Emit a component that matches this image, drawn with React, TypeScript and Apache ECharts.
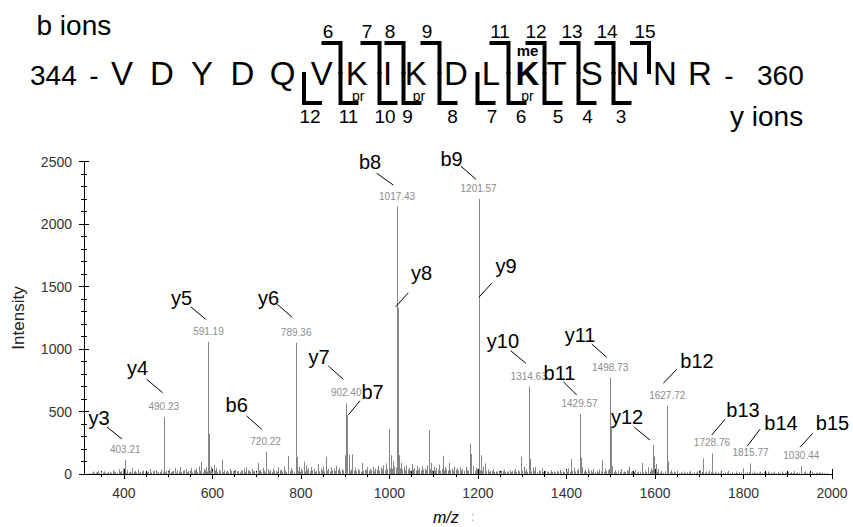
import React, { useEffect, useRef } from 'react';
import * as echarts from 'echarts';

const FONT = 'Arial, "Liberation Sans", Helvetica, sans-serif';

// ---------- axis ticks ----------
const xTickValues = [400, 600, 800, 1000, 1200, 1400, 1600, 1800, 2000];
const yTickValues = [0, 500, 1000, 1500, 2000, 2500];

// ---------- peptide ----------
const residues = ['V', 'D', 'Y', 'D', 'Q', 'V', 'K', 'I', 'K', 'D', 'L', 'K', 'T', 'S', 'N', 'N', 'R'];
const bIonNumbers = [6, 7, 8, 9, 11, 12, 13, 14, 15];
const yIonNumbers = [12, 11, 10, 9, 8, 7, 6, 5, 4, 3];

// ---------- annotated fragment ions ----------
const ionNames = ['y3', 'y4', 'y5', 'b6', 'y6', 'y7', 'b7', 'b8', 'y8', 'b9', 'y9', 'y10', 'b11', 'y11', 'y12', 'b12', 'b13', 'b14', 'b15'];
const ionMz = [403.21, 490.23, 591.19, 720.22, 789.36, 902.4, 904.0, 1017.43, 1019.0, 1201.57, 1202.8, 1314.63, 1429.57, 1498.73, 1595.0, 1627.72, 1728.76, 1815.77, 1930.44];
const ionIntensity = [115, 456, 1058, 180, 1050, 565, 470, 2140, 1330, 2200, 1370, 700, 480, 770, 232, 547, 165, 85, 65];
const ionMzLabel = ['403.21', '490.23', '591.19', '720.22', '789.36', '902.40', '', '1017.43', '', '1201.57', '', '1314.63', '1429.57', '1498.73', '', '1627.72', '1728.76', '1815.77', '1030.44'];

// ---------- other (unannotated) peaks: [m/z, intensity] ----------
const otherPeaks = [
  [330, 20], [336, 12], [342, 28], [349, 15], [355, 22], [362, 10], [368, 18], [375, 30], [381, 14], [388, 38], [394, 25], [399, 45],
  [408, 30], [413, 20], [419, 48], [426, 25], [431, 35], [437, 18], [444, 28], [452, 15], [459, 40], [465, 22], [472, 30], [478, 18],
  [485, 35], [491.5, 150], [496, 25], [503, 40], [509, 20], [515, 48], [521, 30], [527, 55], [533, 25], [540, 40], [546, 22], [552, 50],
  [558, 30], [563, 45], [569, 60], [575, 98], [581, 40], [586, 55], [593.5, 320], [597, 60], [603, 75], [609, 50], [614, 35], [621, 112],
  [627, 30], [633, 25], [640, 40], [646, 20], [652, 35], [659, 25], [665, 30], [671, 45], [677, 55], [683, 30], [689, 40], [695, 25],
  [702, 88], [708, 35], [714, 50], [725, 40], [731, 30], [737, 45], [743, 25], [749, 55], [755, 35], [761, 60], [772, 145], [778, 50],
  [791, 135], [795, 60], [801, 40], [806, 100], [811, 70], [817, 45], [823, 55], [829, 40], [838, 80], [845, 45], [850, 60], [856, 136],
  [862, 40], [868, 55], [874, 45], [880, 65], [886, 50], [893, 40], [899, 150], [908, 155], [916, 157], [922, 50], [929, 40], [938, 90],
  [944, 35], [950, 55], [956, 40], [962, 60], [968, 45], [974, 65], [980, 50], [986, 70], [992, 85], [998, 360], [1003, 150], [1008, 100],
  [1022, 150], [1026, 90], [1032, 60], [1038, 70], [1044, 50], [1050, 80], [1056, 45], [1062, 65], [1068, 50], [1074, 60], [1080, 45],
  [1085, 70], [1089, 352], [1094, 90], [1100, 60], [1106, 50], [1112, 75], [1120, 145], [1126, 55], [1135, 90], [1141, 40], [1147, 60],
  [1153, 45], [1159, 55], [1165, 40], [1172, 60], [1181, 240], [1185, 160], [1190, 60], [1196, 50], [1207, 150], [1212, 60], [1216, 85],
  [1222, 35], [1228, 25], [1234, 40], [1240, 20], [1247, 30], [1253, 25], [1259, 35], [1265, 20], [1272, 30], [1278, 25], [1284, 40],
  [1290, 30], [1297, 140], [1303, 60], [1309, 40], [1318, 120], [1324, 50], [1330, 55], [1337, 30], [1345, 45], [1352, 25], [1358, 20],
  [1365, 30], [1372, 20], [1378, 25], [1385, 35], [1392, 20], [1398, 30], [1404, 45], [1410, 120], [1417, 50], [1432, 130], [1436, 55],
  [1442, 35], [1448, 45], [1455, 30], [1461, 40], [1468, 25], [1474, 35], [1481, 110], [1487, 45], [1500, 380], [1504, 60], [1510, 30],
  [1517, 25], [1523, 40], [1530, 20], [1536, 30], [1542, 60], [1549, 25], [1555, 35], [1562, 20], [1570, 90], [1577, 30], [1585, 55],
  [1591, 45], [1598, 140], [1602, 80], [1607, 40], [1614, 25], [1630, 100], [1636, 30], [1642, 20], [1650, 25], [1658, 15], [1665, 20],
  [1673, 15], [1680, 25], [1688, 15], [1695, 20], [1702, 30], [1709.5, 125], [1716, 20], [1722, 25], [1735, 20], [1742, 15], [1750, 20],
  [1758, 15], [1766, 25], [1775, 15], [1782, 20], [1790, 15], [1800, 45], [1808, 15], [1823, 20], [1830, 12], [1838, 18], [1846, 15],
  [1855, 20], [1862, 12], [1870, 18], [1878, 15], [1886, 20], [1893, 12], [1900, 18], [1908, 15], [1915, 25], [1922, 12], [1940, 20],
  [1948, 12], [1955, 15], [1963, 10], [1970, 15], [1978, 10],
];

// ---------- baseline (chemical noise) peaks: [m/z, intensity] ----------
const baselinePeaks = [
  [322, 6], [327, 10], [333, 8], [339, 15], [345, 6], [352, 12], [358, 7], [365, 14], [371, 9], [378, 20], [384, 11], [391, 16], [397, 9],
  [402, 18], [405, 10], [411, 14], [416, 8], [422, 20], [428, 12], [434, 9], [440, 22], [447, 10], [455, 18], [462, 12], [468, 25], [475, 10],
  [481, 16], [488, 20], [494, 12], [499, 18], [506, 14], [512, 26], [518, 10], [524, 20], [530, 16], [536, 30], [543, 14], [549, 22], [555, 12],
  [561, 28], [566, 18], [572, 24], [578, 14], [584, 30], [589, 20], [595, 26], [600, 22], [606, 28], [611, 16], [617, 22], [624, 14], [630, 20],
  [636, 12], [643, 24], [649, 15], [655, 20], [662, 12], [668, 26], [674, 18], [680, 30], [686, 16], [692, 22], [698, 14], [705, 24], [711, 16],
  [717, 28], [720, 12], [728, 20], [734, 14], [740, 26], [746, 18], [752, 30], [758, 20], [764, 26], [767, 14], [775, 22], [781, 30], [784, 18],
  [793, 24], [798, 16], [803, 28], [809, 20], [814, 32], [820, 22], [826, 30], [832, 18], [835, 26], [841, 22], [847, 30], [853, 20], [859, 28],
  [865, 22], [871, 30], [877, 24], [883, 32], [889, 22], [896, 28], [905, 30], [911, 24], [913, 35], [919, 28], [925, 22], [932, 30], [935, 18],
  [941, 26], [947, 32], [953, 24], [959, 30], [965, 22], [971, 34], [977, 28], [983, 36], [989, 30], [995, 40], [1001, 45], [1005, 40],
  [1011, 60], [1014, 50], [1020, 55], [1024, 45], [1029, 38], [1035, 30], [1041, 36], [1047, 28], [1053, 34], [1059, 26], [1065, 32], [1071, 28],
  [1077, 35], [1083, 30], [1091, 40], [1097, 32], [1103, 28], [1109, 34], [1115, 26], [1118, 40], [1123, 30], [1129, 36], [1132, 28], [1138, 32],
  [1144, 26], [1150, 34], [1156, 28], [1162, 30], [1168, 24], [1175, 32], [1178, 26], [1183, 40], [1188, 30], [1193, 26], [1198, 40], [1204, 30],
  [1210, 26], [1219, 22], [1225, 18], [1231, 24], [1237, 16], [1243, 20], [1250, 14], [1256, 22], [1262, 16], [1268, 20], [1275, 14], [1281, 22],
  [1287, 16], [1293, 20], [1300, 26], [1306, 22], [1312, 18], [1316, 30], [1321, 20], [1327, 24], [1334, 16], [1340, 22], [1348, 14], [1355, 18],
  [1362, 12], [1368, 16], [1375, 12], [1381, 18], [1388, 14], [1395, 16], [1401, 20], [1407, 18], [1413, 24], [1420, 20], [1423, 30], [1427, 40],
  [1439, 20], [1445, 16], [1451, 22], [1458, 14], [1464, 18], [1471, 14], [1477, 20], [1484, 18], [1490, 22], [1493, 30], [1497, 40], [1507, 18],
  [1513, 14], [1520, 18], [1527, 12], [1533, 16], [1539, 22], [1545, 14], [1552, 16], [1559, 12], [1566, 18], [1573, 14], [1580, 16], [1588, 20],
  [1594, 30], [1605, 18], [1611, 12], [1618, 10], [1623, 20], [1633, 14], [1639, 10], [1646, 12], [1654, 8], [1662, 10], [1669, 8], [1676, 12],
  [1684, 8], [1692, 10], [1699, 12], [1706, 16], [1712, 10], [1719, 12], [1726, 14], [1732, 10], [1738, 8], [1746, 10], [1754, 8], [1762, 12],
  [1770, 8], [1778, 10], [1786, 8], [1795, 12], [1804, 10], [1812, 14], [1819, 10], [1826, 8], [1834, 10], [1842, 8], [1850, 10], [1858, 8],
  [1866, 10], [1874, 8], [1882, 10], [1889, 8], [1896, 10], [1904, 8], [1912, 10], [1919, 8], [1926, 10], [1936, 12], [1944, 8], [1951, 10],
  [1959, 8], [1967, 10], [1974, 8], [1982, 8], [1988, 6],
];

// ---------- layout (pixel positions / offsets, not data) ----------
// per ion: [textDx, textDy, lineStartDx, lineStartDy, lineEndDx, lineEndDy] relative to peak top
const ionLayout = [
  [-26.3, -41.6, -18.3, -32.6, -3.3, -20.6],
  [-26.3, -49, -17.1, -37.7, -1.1, -24.3],
  [-26.8, -43.7, -17.8, -35, -2.8, -22.5],
  [-28.9, -46.5, -18.9, -35.5, -3.9, -22.2],
  [-27.7, -44.7, -18.9, -38.4, -3.9, -25.4],
  [-27.2, -46.4, -17.9, -37.4, -2.9, -24.1],
  [25.6, -23.5, 13.1, -14.5, 1.4, -0.3],
  [-27.1, -44.5, -20.4, -33.2, -3.8, -21.5],
  [23.7, -34.7, 10.5, -15, -2.1, -1],
  [-27.1, -40, -17.9, -33, -2.6, -19.7],
  [26.8, -36.7, 12.5, -19.5, -0.2, -5.5],
  [-25.7, -45.5, -18, -35.8, -2.7, -23.2],
  [-20, -41.5, -16.2, -32.3, -2.8, -19],
  [-30.1, -42.7, -18.4, -33.7, -3.4, -20.4],
  [-25.7, -28.5, -18.4, -17.7, -2.7, -5],
  [29.8, -44.6, 9.5, -36.3, -3.9, -22.3],
  [31.1, -43.4, 13.1, -34.1, -0.2, -18.4],
  [30.6, -40.4, 9.6, -34.1, -3.1, -17.4],
  [31.3, -42.6, 11.5, -32.6, -1.2, -18.6],
];
const residueX = [122, 162, 202, 242.5, 282.5, 321.7, 356.7, 387.5, 415.8, 455.8, 490.8, 527.5, 556.7, 591.7, 627.5, 665, 700];
const siteX: Record<number, number> = { 5: 304, 6: 340.5, 7: 379.5, 8: 403.5, 9: 439.5, 10: 477.5, 11: 508.5, 12: 544.5, 13: 578.5, 14: 613.5, 15: 649 };
const bNumberX = [328, 367, 390, 427, 500, 536, 572, 607, 645];
const yNumberX = [310, 348.5, 385, 407.5, 452.5, 492, 521, 558, 587.5, 621];

function txt(text: string, x: number, y: number, size: number, opts: any = {}) {
  const style: any = {
    text,
    fill: opts.fill || '#000',
    fontSize: size,
    fontFamily: FONT,
    fontWeight: opts.weight || 'normal',
    fontStyle: opts.style || 'normal',
    align: opts.align || 'center',
    verticalAlign: 'middle',
    textAlign: opts.align || 'center',
    textVerticalAlign: 'middle',
  };
  if (opts.lineHeight) style.lineHeight = opts.lineHeight;
  return { type: 'text', x, y, silent: true, style };
}

function buildHeader() {
  const els: any[] = [];
  els.push(txt('b ions', 36.5, 25.3, 28, { align: 'left' }));
  els.push(txt('344', 30, 75.5, 28, { align: 'left', lineHeight: 24 }));
  els.push(txt('-', 94, 75.5, 28, { lineHeight: 24 }));
  residues.forEach((r, i) => {
    els.push(txt(r, residueX[i], 73.3, 33, { weight: i === 11 ? 'bold' : 'normal', lineHeight: 26 }));
  });
  els.push(txt('-', 729, 75.5, 28, { lineHeight: 24 }));
  els.push(txt('360', 757, 75.5, 28, { align: 'left', lineHeight: 24 }));
  els.push(txt('y ions', 730, 116, 28, { align: 'left' }));
  // modification labels
  els.push(txt('pr', residueX[6] + 1.6, 96, 14, { lineHeight: 12 }));
  els.push(txt('pr', residueX[8] + 3.2, 96, 14, { lineHeight: 12 }));
  els.push(txt('pr', residueX[11], 96, 14, { lineHeight: 12 }));
  els.push(txt('me', residueX[11], 50, 15, { weight: 'bold', lineHeight: 12 }));
  // b ion brackets
  bIonNumbers.forEach((n, i) => {
    const x = siteX[n];
    els.push({
      type: 'polyline',
      silent: true,
      shape: { points: [[x - 19, 43], [x, 43], [x, 74]] },
      style: { stroke: '#000', lineWidth: 4, fill: null, lineJoin: 'miter', lineCap: 'butt' },
    });
    els.push(txt(String(n), bNumberX[i], 31.4, 19));
  });
  // y ion brackets
  yIonNumbers.forEach((n, i) => {
    const x = siteX[17 - n];
    els.push({
      type: 'polyline',
      silent: true,
      shape: { points: [[x, 72], [x, 103], [x + 18, 103]] },
      style: { stroke: '#000', lineWidth: 4, fill: null, lineJoin: 'miter', lineCap: 'butt' },
    });
    els.push(txt(String(n), yNumberX[i], 116.5, 19));
  });
  // axis titles
  els.push({
    type: 'text',
    x: 18.5,
    y: 318,
    rotation: Math.PI / 2,
    silent: true,
    style: { text: 'Intensity', fill: '#222', fontSize: 17, fontFamily: FONT, align: 'center', verticalAlign: 'middle', textAlign: 'center', textVerticalAlign: 'middle' },
  });
  els.push(txt('m/z', 433, 517, 16, { align: 'left', style: 'italic' }));
  els.push(txt(':', 471, 517, 12, { align: 'left', fill: '#999' }));
  return els;
}

function minorValues(from: number, to: number, step: number, majors: number[]) {
  const out: number[] = [];
  for (let v = from; v <= to; v += step) if (!majors.includes(v)) out.push(v);
  return out;
}

const plain = (v: number) => String(v);

export default function App() {
  const ref = useRef<HTMLDivElement>(null);
  useEffect(() => {
    if (!ref.current) return;
    const chart = echarts.init(ref.current, undefined, { renderer: 'svg' });
    const xMinor = minorValues(350, 1950, 50, xTickValues);
    const axisColor = '#000';
    const xBase = { type: 'value', min: 310, max: 2000, position: 'bottom', splitLine: { show: false }, gridIndex: 0 };
    const yBase = { type: 'value', min: 0, max: 2500, interval: 500, position: 'left', splitLine: { show: false }, gridIndex: 0 };
    const spectrum = baselinePeaks.concat(otherPeaks).concat(ionMz.map((m, i) => [m, ionIntensity[i]]));
    chart.setOption({
      animation: false,
      backgroundColor: '#fff',
      grid: { left: 84, right: 21, top: 161.5, bottom: 53 },
      xAxis: [
        {
          ...xBase,
          axisLine: { show: true, lineStyle: { color: axisColor, width: 1 } },
          axisTick: { show: true, customValues: xTickValues, length: 5, lineStyle: { color: axisColor } },
          axisLabel: { show: true, customValues: xTickValues, formatter: plain, color: '#333', fontSize: 14, fontFamily: FONT, margin: 12 },
        },
        {
          ...xBase,
          axisLine: { show: false },
          axisTick: { show: true, inside: true, customValues: xTickValues, length: 5, lineStyle: { color: axisColor } },
          axisLabel: { show: false },
        },
        {
          ...xBase,
          axisLine: { show: false },
          axisTick: { show: true, customValues: xMinor, length: 3, lineStyle: { color: axisColor } },
          axisLabel: { show: false },
        },
        {
          ...xBase,
          axisLine: { show: false },
          axisTick: { show: true, inside: true, customValues: xMinor, length: 3, lineStyle: { color: axisColor } },
          axisLabel: { show: false },
        },
      ],
      yAxis: [
        {
          ...yBase,
          axisLine: { show: true, lineStyle: { color: axisColor, width: 1 } },
          axisTick: { show: true, length: 5, lineStyle: { color: axisColor } },
          minorTick: { show: true, splitNumber: 5, length: 3, lineStyle: { color: axisColor } },
          axisLabel: { show: true, customValues: yTickValues, formatter: plain, color: '#333', fontSize: 14, fontFamily: FONT, margin: 12 },
        },
        {
          ...yBase,
          axisLine: { show: false },
          axisTick: { show: true, inside: true, length: 5, lineStyle: { color: axisColor } },
          minorTick: { show: true, splitNumber: 5, length: 3, lineStyle: { color: axisColor } },
          axisLabel: { show: false },
        },
      ],
      graphic: buildHeader(),
      series: [
        {
          type: 'custom',
          name: 'spectrum',
          xAxisIndex: 0,
          yAxisIndex: 0,
          data: spectrum,
          clip: true,
          z: 2,
          renderItem: (params: any, api: any) => {
            const p0 = api.coord([api.value(0), 0]);
            const p1 = api.coord([api.value(0), api.value(1)]);
            const x = Math.round(p0[0]) + 0.5;
            return {
              type: 'line',
              silent: true,
              shape: { x1: x, y1: p0[1], x2: x, y2: p1[1] },
              style: { stroke: '#858585', lineWidth: 1 },
            };
          },
        },
        {
          type: 'custom',
          name: 'annotations',
          xAxisIndex: 0,
          yAxisIndex: 0,
          data: ionMz.map((m, i) => [m, ionIntensity[i], i]),
          z: 5,
          renderItem: (params: any, api: any) => {
            const i = api.value(2);
            const p = api.coord([api.value(0), api.value(1)]);
            const L = ionLayout[i];
            const children: any[] = [];
            if (ionMzLabel[i]) {
              children.push({
                type: 'text',
                x: p[0],
                y: p[1] - 10.5,
                style: { text: ionMzLabel[i], fill: '#8c8c8c', fontSize: 10, fontFamily: FONT, align: 'center', verticalAlign: 'middle' },
              });
            }
            children.push({
              type: 'line',
              shape: { x1: p[0] + L[2], y1: p[1] + L[3], x2: p[0] + L[4], y2: p[1] + L[5] },
              style: { stroke: '#000', lineWidth: 1 },
            });
            children.push({
              type: 'text',
              x: p[0] + L[0],
              y: p[1] + L[1],
              style: { text: ionNames[i], fill: '#000', fontSize: 20, fontFamily: FONT, align: 'center', verticalAlign: 'middle' },
            });
            return { type: 'group', children };
          },
        },
      ],
    });
    return () => chart.dispose();
  }, []);
  return <div ref={ref} style={{ position: 'absolute', left: 0, top: 0, width: 853, height: 527 }} />;
}
